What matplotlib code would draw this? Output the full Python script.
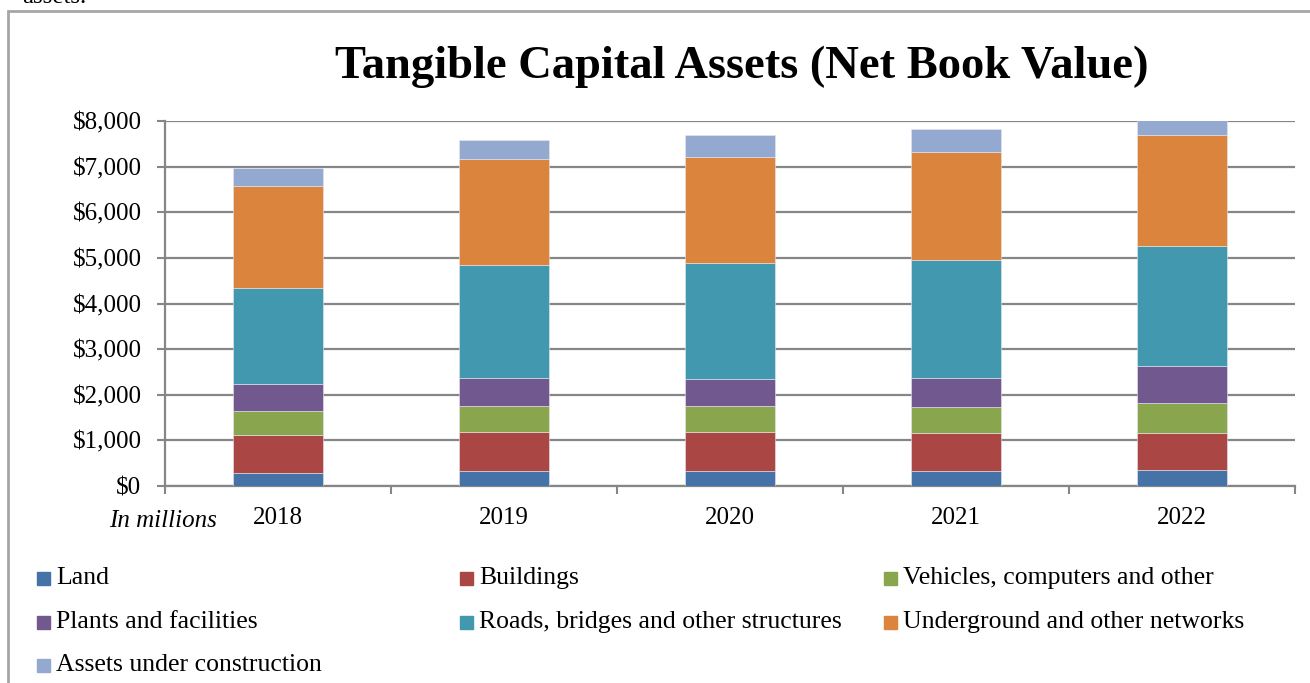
import numpy as np
import matplotlib
matplotlib.use('Agg')
import matplotlib.pyplot as plt
from matplotlib.patches import Rectangle
from matplotlib.ticker import FuncFormatter, FixedLocator

years = ['2018', '2019', '2020', '2021', '2022']
series = ['Land', 'Buildings', 'Vehicles, computers and other', 'Plants and facilities',
          'Roads, bridges and other structures', 'Underground and other networks',
          'Assets under construction']
land = [280, 320, 320, 330, 340]
buildings = [840, 870, 855, 840, 820]
vehicles = [515, 555, 570, 560, 650]
plants = [605, 615, 600, 630, 825]
roads = [2100, 2490, 2550, 2600, 2630]
underground = [2225, 2315, 2320, 2365, 2430]
construction = [410, 410, 480, 505, 320]
colors = ['#4572A7', '#AA4643', '#89A54E', '#71588F', '#4198AF', '#DB843D', '#93A9CF']

W, H = 1310, 683
plt.rcParams['font.family'] = ['Liberation Serif', 'DejaVu Serif']
fig = plt.figure(figsize=(W / 100, H / 100), dpi=100)

def fx(px):
	return px / W

def fy(py):
	return 1 - py / H

# page frame and the cut-off word above it
fig.add_artist(Rectangle((fx(8), fy(700)), fx(1320) - fx(8), fy(11) - fy(700),
                         transform=fig.transFigure, fill=False, edgecolor='#A6A6A6', lw=2))
fig.text(fx(22), fy(3), 'assets.', fontsize=18, va='baseline', ha='left')

ax = fig.add_axes([fx(165), fy(486), fx(1295) - fx(165), fy(121) - fy(486)])
data = [land, buildings, vehicles, plants, roads, underground, construction]
x = np.arange(len(years))
bottom = np.zeros(len(years))
for vals, name, c in zip(data, series, colors):
	ax.bar(x, vals, 0.4, bottom=bottom, color=c, edgecolor='#E8E8F0', lw=0.4,
	       label=name, zorder=3)
	bottom += np.array(vals)

ax.set_xlim(-0.5, len(years) - 0.5)
ax.set_ylim(0, 8000)
ax.set_yticks(np.arange(0, 8001, 1000))
ax.yaxis.set_major_formatter(FuncFormatter(lambda v, p: '${:,.0f}'.format(v)))
ax.grid(axis='y', color='#868686', lw=1.6, zorder=0)
ax.set_xticks(x)
ax.set_xticklabels(years)
ax.xaxis.set_minor_locator(FixedLocator(np.arange(-0.5, len(years), 1.0)))
ax.tick_params(axis='x', which='major', length=0, pad=15, labelsize=18)
ax.tick_params(axis='x', which='minor', length=6, width=1.5, color='#868686', direction='out')
ax.tick_params(axis='y', length=6, width=1.5, color='#868686', pad=11, labelsize=18)
for s in ['top', 'right']:
	ax.spines[s].set_visible(False)
for s in ['left', 'bottom']:
	ax.spines[s].set_color('#868686')
	ax.spines[s].set_linewidth(1.6)

fig.text(fx(163), fy(521), 'In millions', fontsize=18, style='italic', ha='center', va='center')
fig.text(fx(742), fy(67), 'Tangible Capital Assets (Net Book Value)', fontsize=33.5,
         fontweight='bold', ha='center', va='center')

# legend laid out row by row like the original
leg_x = [37, 460, 884]
leg_y = [578, 622, 665]
for i, (name, c) in enumerate(zip(series, colors)):
	r, k = divmod(i, 3)
	fig.add_artist(Rectangle((fx(leg_x[k]), fy(leg_y[r] + 6.5)), fx(13), 13 / H,
	                         transform=fig.transFigure, color=c))
	fig.text(fx(leg_x[k] + 19), fy(leg_y[r]), name, fontsize=18.5, ha='left', va='center')

fig.savefig('out.png', dpi=100)
